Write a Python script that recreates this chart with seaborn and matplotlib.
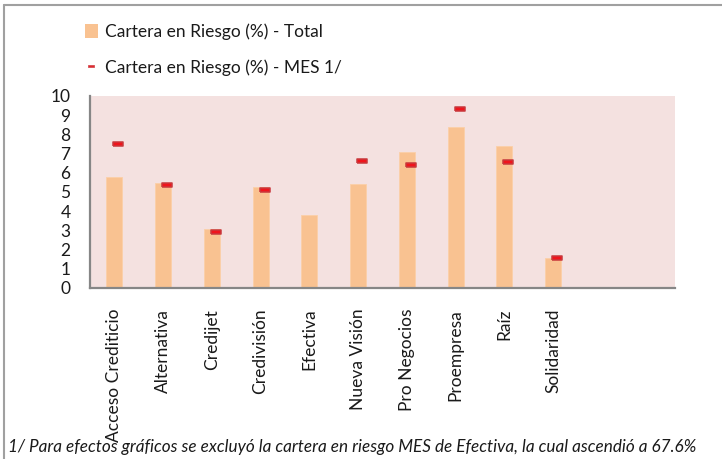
import numpy as np
import pandas as pd
import seaborn as sns

import matplotlib
matplotlib.use("Agg")
from matplotlib import pyplot as plt
from matplotlib.patches import Patch
from matplotlib.lines import Line2D
from matplotlib.transforms import ScaledTranslation

entidades = ["Acceso Crediticio", "Alternativa", "Credijet", "Credivisión", "Efectiva",
             "Nueva Visión", "Pro Negocios", "Proempresa", "Raíz", "Solidaridad"]
car_total = [5.8, 5.45, 3.05, 5.25, 3.8, 5.42, 7.08, 8.4, 7.4, 1.55]
car_mes = [7.52, 5.38, 2.92, 5.1, np.nan, 6.62, 6.42, 9.32, 6.55, 1.58]

label_total = "Cartera en Riesgo (%) - Total"
label_mes = "Cartera en Riesgo (%) - MES 1/"
nota = "1/ Para efectos gráficos se excluyó la cartera en riesgo MES de Efectiva, la cual ascendió a 67.6%"

df = pd.DataFrame({"entidad": entidades, "total": car_total, "mes": car_mes})

sns.set_style("white")
plt.rcParams["font.family"] = ["Lato", "DejaVu Sans"]

bar_color = "#f9c291"
fig = plt.figure(figsize=(7.22, 4.59), dpi=100)
ax = fig.add_axes([90 / 722, 1 - 288 / 459, 585 / 722, 192 / 459])
ax.set_facecolor("#f4e1e0")

sns.barplot(data=df, x="entidad", y="total", color=bar_color, width=0.33,
            saturation=1, edgecolor="#fbcfa8", linewidth=0.6, ax=ax)

# little red dash marker for the MES series
dash = [(-1, -0.42), (1, -0.42), (1, 0.42), (-1, 0.42), (-1, -0.42)]
sns.scatterplot(data=df, x="entidad", y="mes", marker=dash, s=60,
                color="#f0141c", edgecolor="#c8383c", linewidth=1.1, ax=ax, zorder=5)
offset = ScaledTranslation(4 / 100, 0, fig.dpi_scale_trans)
for coll in ax.collections:
    coll.set_transform(coll.get_transform() + offset)

ax.set_xlim(-0.5, 11.5)
ax.set_ylim(0, 10)
ax.set_yticks(range(0, 11))
ax.set_xlabel("")
ax.set_ylabel("")
ax.tick_params(axis="y", length=0, pad=14, labelsize=12.5, labelcolor="#1a1a1a")
ax.tick_params(axis="x", length=0, pad=15, labelsize=12.5, labelcolor="#1a1a1a")
plt.setp(ax.get_xticklabels(), rotation=90, va="top", ha="center")

for side in ["top", "right"]:
    ax.spines[side].set_visible(False)
for side in ["left", "bottom"]:
    ax.spines[side].set_color("#868686")
    ax.spines[side].set_linewidth(1.6)

handles = [
    Patch(facecolor=bar_color, edgecolor="none"),
    Line2D([], [], linestyle="none", marker=dash, markersize=5,
           markerfacecolor="#e02a2f", markeredgecolor="#d04045", markeredgewidth=0.5),
]
fig.legend(handles, [label_total, label_mes], loc="upper left",
           bbox_to_anchor=(69 / 722, 1 - 8 / 459), frameon=False, fontsize=12.5,
           handlelength=0.75, handleheight=0.85, handletextpad=0.45, labelspacing=1.1,
           labelcolor="#1a1a1a", borderpad=0.4)

fig.text(8 / 722, 1 - 447 / 459, nota, style="italic", fontsize=12.3,
         color="#1a1a1a", va="center", ha="left")

# outer frame lines of the chart object
fig.add_artist(Line2D([4 / 722, 1], [1 - 5 / 459, 1 - 5 / 459], color="#a0a0a0", lw=1.5))
fig.add_artist(Line2D([4 / 722, 4 / 722], [0, 1 - 5 / 459], color="#a0a0a0", lw=1.5))

fig.savefig("out.png", dpi=100)
